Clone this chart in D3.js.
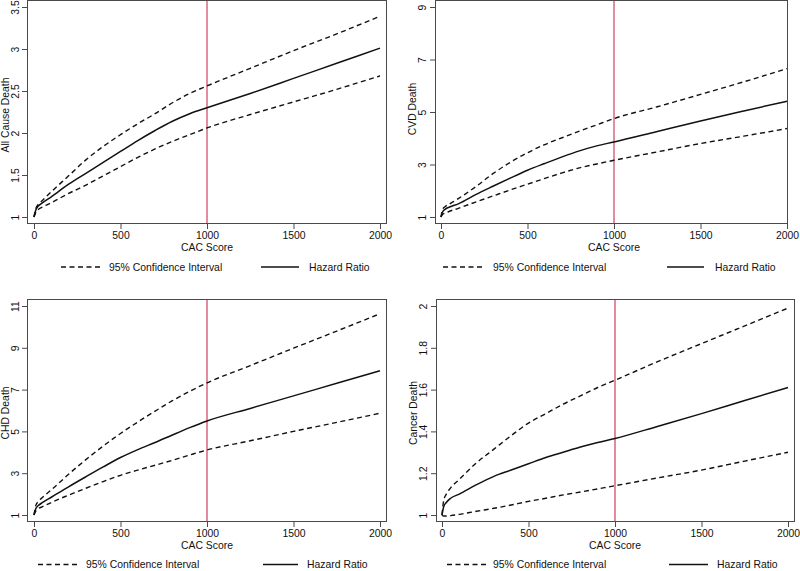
<!DOCTYPE html>
<html><head><meta charset="utf-8">
<script src="https://cdn.jsdelivr.net/npm/d3@7"></script>
<style>
body{margin:0;background:#fff;}
svg{display:block;font-family:"Liberation Sans",Arial,Helvetica,sans-serif;}
</style></head>
<body><svg id="c" width="800" height="571"></svg>
<script>
// ---- data ----
const cacScore = [0,10,25,50,100,200,300,400,500,600,700,800,900,1000,1250,1500,1750,2000];

const allCauseHR    = [1.00,1.08,1.13,1.17,1.24,1.39,1.52,1.65,1.78,1.91,2.03,2.14,2.23,2.30,2.47,2.65,2.83,3.01];
const allCauseUpper = [1.00,1.10,1.15,1.20,1.30,1.49,1.68,1.84,1.98,2.11,2.23,2.36,2.47,2.56,2.77,2.98,3.18,3.39];
const allCauseLower = [1.00,1.05,1.09,1.12,1.17,1.28,1.38,1.49,1.60,1.71,1.81,1.90,1.98,2.06,2.22,2.37,2.52,2.68];

const cvdHR    = [1.00,1.20,1.30,1.38,1.50,1.85,2.17,2.48,2.78,3.04,3.29,3.52,3.71,3.86,4.26,4.66,5.04,5.41];
const cvdUpper = [1.00,1.30,1.40,1.50,1.70,2.15,2.65,3.08,3.45,3.76,4.02,4.27,4.51,4.75,5.20,5.67,6.15,6.65];
const cvdLower = [1.00,1.10,1.15,1.22,1.33,1.57,1.80,2.03,2.25,2.47,2.68,2.87,3.02,3.16,3.48,3.80,4.08,4.37];

const chdHR    = [1.00,1.30,1.45,1.60,1.85,2.35,2.83,3.30,3.75,4.13,4.47,4.83,5.18,5.50,6.10,6.70,7.30,7.90];
const chdUpper = [1.00,1.45,1.65,1.85,2.20,2.95,3.65,4.30,4.90,5.45,5.97,6.47,6.92,7.32,8.15,8.98,9.80,10.63];
const chdLower = [1.00,1.18,1.30,1.40,1.60,1.95,2.28,2.60,2.90,3.15,3.38,3.62,3.87,4.11,4.55,5.00,5.43,5.87];

const cancerHR    = [1.00,1.04,1.06,1.08,1.10,1.145,1.185,1.215,1.245,1.275,1.30,1.325,1.347,1.366,1.425,1.485,1.548,1.61];
const cancerUpper = [1.00,1.07,1.10,1.13,1.17,1.25,1.315,1.38,1.44,1.485,1.53,1.57,1.61,1.645,1.735,1.82,1.905,1.99];
const cancerLower = [1.00,0.995,0.995,0.997,1.003,1.018,1.032,1.048,1.065,1.08,1.096,1.11,1.125,1.14,1.178,1.215,1.258,1.30];

const xTicks = [0,500,1000,1500,2000];
const allCauseTicks = [1,1.5,2,2.5,3,3.5];
const cvdTicks = [1,3,5,7,9];
const chdTicks = [1,3,5,7,9,11];
const cancerTicks = [1,1.2,1.4,1.6,1.8,2];
const xTitle = "CAC Score";
const legendLabels = ["95% Confidence Interval","Hazard Ratio"];
const cutoff = 1000;

// ---- layout ----
const panels = [
  {title:"All Cause Death", hr:allCauseHR, up:allCauseUpper, lo:allCauseLower, ticks:allCauseTicks, dom:[1,3.5],
   box:[27,0,387,224], xr:[34,380], yr:[217,7], ty:115, tx:9, tickLx:-8.5, leg:[61,100,109,261,299,309], ly:267, red:"#c41e3a", rw:1},
  {title:"CVD Death", hr:cvdHR, up:cvdUpper, lo:cvdLower, ticks:cvdTicks, dom:[1,9],
   box:[435,0,788,224], xr:[441,787], yr:[217,7], ty:109, tx:416, tickLx:-9, leg:[443,483,493,667,704,715], ly:267, red:"#c41e3a", rw:1},
  {title:"CHD Death", hr:chdHR, up:chdUpper, lo:chdLower, ticks:chdTicks, dom:[1,11],
   box:[27,299,387,522], xr:[34,380], yr:[515,306], ty:413, tx:9, tickLx:-8.5, leg:[38,77,86,263,298,307], ly:564.5, red:"#dc6e86", rw:1.6},
  {title:"Cancer Death", hr:cancerHR, up:cancerUpper, lo:cancerLower, ticks:cancerTicks, dom:[1,2],
   box:[436,299,795,522], xr:[442,788], yr:[515,306], ty:413, tx:417, tickLx:-9, leg:[447,486,493,669,708,717], ly:564.5, red:"#dc6e86", rw:1.6}
];

const svg = d3.select("#c");
const FS = "10.4px";

panels.forEach((p,i)=>{
  const g = svg.append("g");
  const x = d3.scaleLinear().domain([0,2000]).range(p.xr);
  const y = d3.scaleLinear().domain(p.dom).range(p.yr);
  const [bx0,by0,bx1,by1] = p.box;

  // red cutoff line
  g.append("line").attr("x1",x(cutoff)).attr("x2",x(cutoff)).attr("y1",by0).attr("y2",by1)
    .attr("stroke",p.red).attr("stroke-width",p.rw);

  const line = d3.line().x((d,j)=>x(cacScore[j])).y(d=>y(d)).curve(d3.curveMonotoneX);
  [p.up,p.lo].forEach(s=>{
    g.append("path").datum(s).attr("d",line).attr("fill","none").attr("stroke","#111")
      .attr("stroke-width",1.4).attr("stroke-dasharray","5,3.5");
  });
  g.append("path").datum(p.hr).attr("d",line).attr("fill","none").attr("stroke","#111").attr("stroke-width",1.5);

  // box
  g.append("rect").attr("x",bx0+0.5).attr("y",by0+0.5).attr("width",bx1-bx0-1).attr("height",by1-by0-1)
    .attr("fill","none").attr("stroke","#4a4a4a").attr("stroke-width",1);

  // x axis
  const xa = g.append("g").attr("transform",`translate(0,${by1})`)
    .call(d3.axisBottom(x).tickValues(xTicks).tickSize(5).tickPadding(2).tickFormat(d3.format("d")));
  xa.select(".domain").remove();
  xa.selectAll("line").attr("stroke","#4a4a4a");
  xa.selectAll("text").attr("font-size",FS).attr("fill","#111").attr("dy","0.71em").attr("y",8);

  // y axis
  const ya = g.append("g").attr("transform",`translate(${bx0},0)`)
    .call(d3.axisLeft(y).tickValues(p.ticks).tickSize(5).tickFormat(d3.format("~g")));
  ya.select(".domain").remove();
  ya.selectAll("line").attr("stroke","#4a4a4a");
  ya.selectAll("text").attr("font-size",FS).attr("fill","#111")
    .attr("transform","rotate(-90)").attr("text-anchor","middle").attr("x",0).attr("y",p.tickLx).attr("dy",0);

  // axis titles
  g.append("text").attr("x",(x(0)+x(2000))/2).attr("y",by1+27).attr("text-anchor","middle")
    .attr("font-size",FS).attr("fill","#111").text(xTitle);
  g.append("text").attr("transform",`translate(${p.tx},${p.ty}) rotate(-90)`).attr("text-anchor","middle")
    .attr("font-size",FS).attr("fill","#111").text(p.title);

  // legend
  const L = p.leg;
  g.append("line").attr("x1",L[0]).attr("x2",L[1]).attr("y1",p.ly).attr("y2",p.ly)
    .attr("stroke","#111").attr("stroke-width",1.4).attr("stroke-dasharray","5,3.5");
  g.append("text").attr("x",L[2]).attr("y",p.ly+3.7).attr("font-size",FS).attr("fill","#111").text(legendLabels[0]);
  g.append("line").attr("x1",L[3]).attr("x2",L[4]).attr("y1",p.ly).attr("y2",p.ly)
    .attr("stroke","#111").attr("stroke-width",1.5);
  g.append("text").attr("x",L[5]).attr("y",p.ly+3.7).attr("font-size",FS).attr("fill","#111").text(legendLabels[1]);
});
</script></body></html>
